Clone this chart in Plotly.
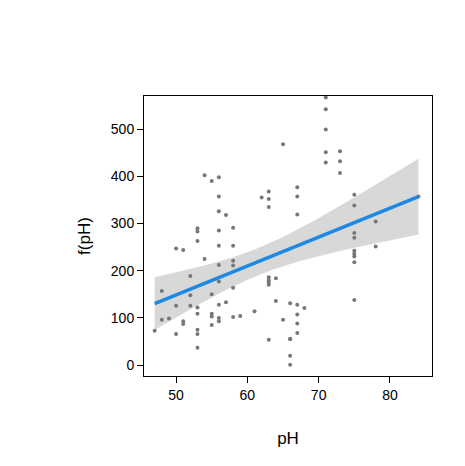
import numpy as np
import plotly.graph_objects as go

ph = [47,48,48,49,50,50,50,51,51,51,52,52,52,53,53,53,53,53,53,53,53,54,54,55,55,55,55,55,
      56,56,56,56,56,56,56,56,56,56,57,57,58,58,58,58,58,58,59,61,62,63,63,63,63,63,63,63,63,
      64,64,65,65,66,66,66,66,66,67,67,67,67,67,67,67,68,71,71,71,71,71,73,73,73,
      75,75,75,75,75,75,75,75,75,78,78,84]
fph = [73,157,96,99,247,126,66,244,93,87,189,148,126,290,283,263,122,109,75,66,37,402,225,390,150,109,103,85,
       398,357,326,285,253,212,177,128,100,93,318,133,291,253,221,211,164,102,104,114,355,368,352,335,186,180,175,54,
       170,184,136,96,468,131,55,20,1,56,377,357,319,128,107,88,68,121,567,542,499,451,429,453,432,407,
       361,338,280,270,242,236,230,218,138,304,251,357]

x = np.array(ph, float); y = np.array(fph, float)
X = np.column_stack([np.ones_like(x), x])
beta, *_ = np.linalg.lstsq(X, y, rcond=None)
res = y - X @ beta
n = len(x); s2 = res @ res / (n - 2)
cov = s2 * np.linalg.inv(X.T @ X)
xs = np.linspace(x.min(), x.max(), 80)
Xs = np.column_stack([np.ones_like(xs), xs])
yh = Xs @ beta
se = np.sqrt(np.einsum('ij,jk,ik->i', Xs, cov, Xs))
lo, hi = yh - 2.3 * se, yh + 2.3 * se

fig = go.Figure()
fig.add_trace(go.Scatter(x=np.concatenate([xs, xs[::-1]]), y=np.concatenate([hi, lo[::-1]]),
                         fill='toself', fillcolor='rgba(190,190,190,0.6)', line=dict(width=0),
                         hoverinfo='skip', mode='lines'))
fig.add_trace(go.Scatter(x=ph, y=fph, mode='markers', marker=dict(color='#777777', size=4)))
fig.add_trace(go.Scatter(x=xs, y=yh, mode='lines', line=dict(color='#1E88E5', width=3.5)))

ax = dict(showgrid=False, zeroline=False, showline=True, mirror=True, linecolor='black', linewidth=1,
          ticks='outside', ticklen=6, tickcolor='black', tickfont=dict(size=14, color='black'),
          automargin=False)
fig.update_layout(
    width=465, height=466, showlegend=False, plot_bgcolor='white', paper_bgcolor='white',
    margin=dict(l=136, r=41, t=88, b=98),
    font=dict(family='Liberation Sans, Arial, sans-serif', size=14, color='black'),
    xaxis=dict(**ax, range=[45.5, 85.9], tickvals=[50, 60, 70, 80],
               title=dict(text='pH', standoff=30)),
    yaxis=dict(**ax, range=[-23, 570], tickvals=[0, 100, 200, 300, 400, 500],
               title=dict(text='f(pH)', standoff=15)),
)
fig.write_html('out.html')
